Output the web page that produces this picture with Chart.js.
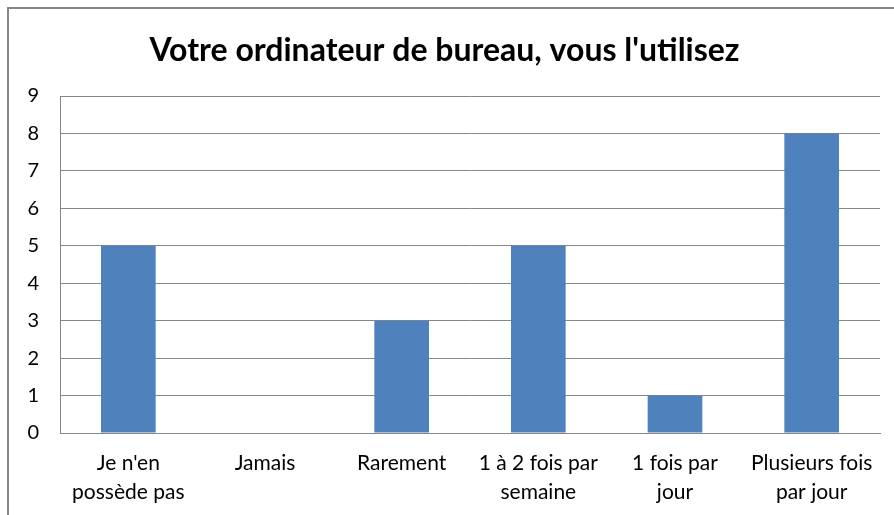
<!DOCTYPE html>
<html>
<head>
<meta charset="utf-8">
<script src="https://cdn.jsdelivr.net/npm/chart.js@4"></script>
<style>
    html, body { margin: 0; padding: 0; background: #fff; }
    #frame {
        position: absolute;
        left: 7px;
        top: 7px;
        width: 887px;
        height: 508px;
        border-left: 2px solid #878787;
        border-top: 2px solid #878787;
    }
    #chart { display: block; }
</style>
</head>
<body>
<div id="frame">
    <canvas id="chart" width="885" height="506"></canvas>
</div>
<script>
// Chart data
const categories = [
    ["Je n'en", 'possède pas'],
    'Jamais',
    'Rarement',
    ['1 à 2 fois par', 'semaine'],
    ['1 fois par', 'jour'],
    ['Plusieurs fois', 'par jour']
];
const counts = [5, 0, 3, 5, 1, 8];
const yTicks = [0, 1, 2, 3, 4, 5, 6, 7, 8, 9];

const titleText = "Votre ordinateur de bureau, vous l'utilisez";

const ctx = document.getElementById('chart').getContext('2d');

new Chart(ctx, {
    type: 'bar',
    data: {
        labels: categories,
        datasets: [{
            label: 'Réponses',
            data: counts,
            backgroundColor: '#4F81BD',
            categoryPercentage: 1,
            barPercentage: 0.4
        }]
    },
    options: {
        responsive: false,
        animation: false,
        layout: {
            padding: { left: 0, right: 14, top: 0, bottom: 0 }
        },
        plugins: {
            legend: { display: false },
            tooltip: { enabled: false },
            title: {
                display: true,
                text: titleText,
                color: '#000',
                font: { family: 'Lato', size: 32, weight: 'bold', lineHeight: 1.2 },
                padding: { top: 22, bottom: 26.6 }
            }
        },
        scales: {
            x: {
                grid: { display: false, drawTicks: false },
                border: { display: true, color: '#878787' },
                ticks: {
                    color: '#000',
                    font: { family: 'Lato', size: 21, lineHeight: 1.38 },
                    padding: 16,
                    maxRotation: 0,
                    autoSkip: false
                },
                afterFit: (scale) => { scale.height = 82; }
            },
            y: {
                min: 0,
                max: 9,
                afterBuildTicks: (scale) => {
                    scale.ticks = yTicks.map(v => ({ value: v }));
                },
                grid: { color: '#878787', lineWidth: 1, drawTicks: false },
                border: { display: true, color: '#878787' },
                ticks: {
                    color: '#000',
                    font: { family: 'Lato', size: 20 },
                    padding: 21
                },
                afterFit: (scale) => { scale.width = 51; }
            }
        }
    }
});
</script>
</body>
</html>
